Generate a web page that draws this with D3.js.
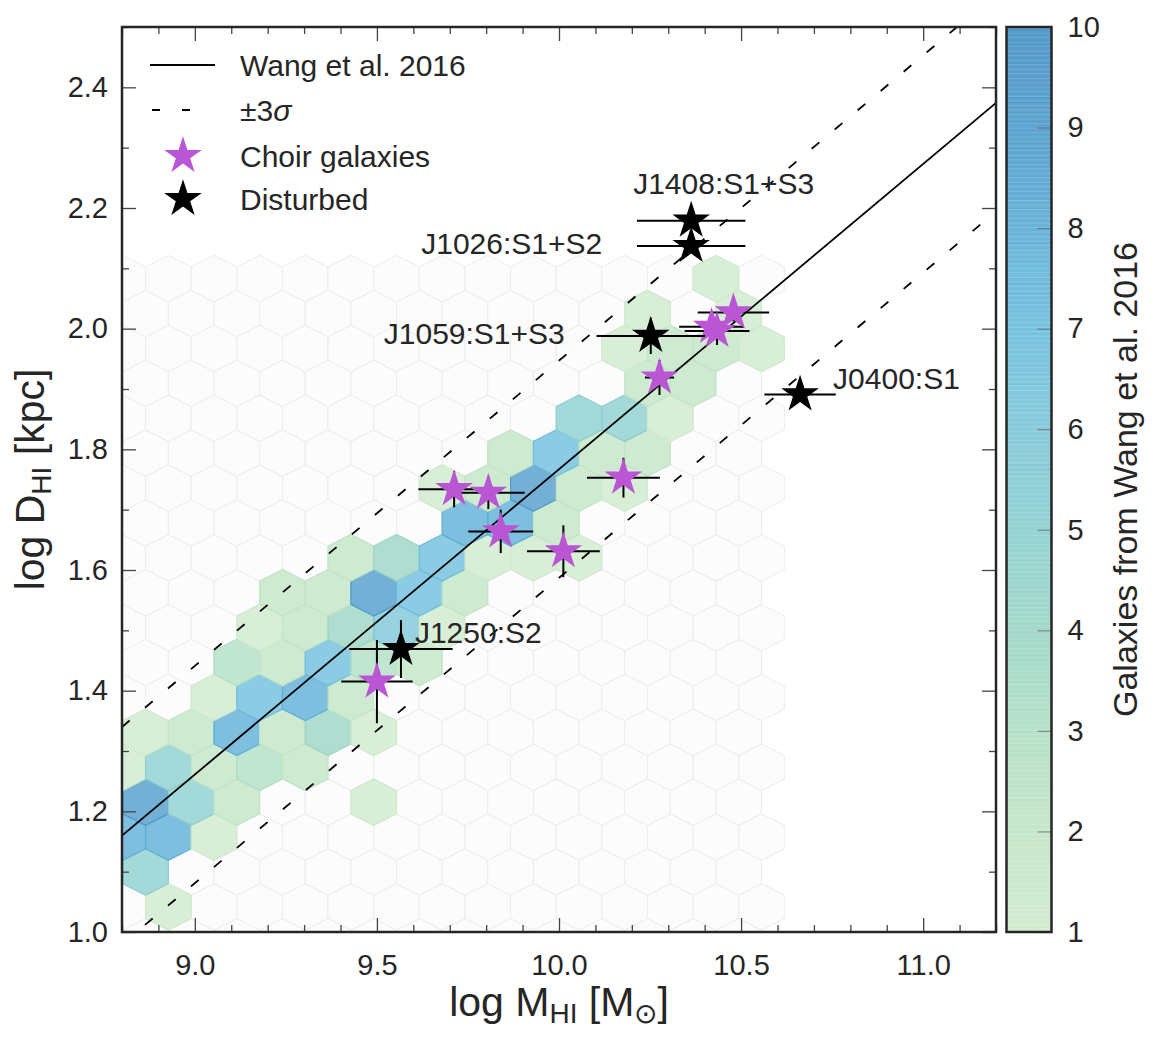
<!DOCTYPE html>
<html>
<head>
<meta charset="utf-8">
<script src="https://cdn.jsdelivr.net/npm/d3@7"></script>
<style>
  body { margin: 0; background: white; }
  text { font-family: "Liberation Sans", Arial, sans-serif; fill: #262626; }
</style>
</head>
<body>
<div id="chart"></div>
<script>
// axes
const xDomain = [8.8, 11.2];
const yDomain = [1.0, 2.5];
const xMajor = [9.0, 9.5, 10.0, 10.5, 11.0];
const yMajor = [1.0, 1.2, 1.4, 1.6, 1.8, 2.0, 2.2, 2.4];
const cbarTicks = [1, 2, 3, 4, 5, 6, 7, 8, 9, 10];
const cbarColors = ['#cfeacd', '#c2e5c6', '#b0dfc4', '#9bd6c6', '#8ccfcf',
                    '#7ec6d8', '#6ebedd', '#5eaed6', '#519ccc', '#4690c4'];

// hexbin lattice used for the Wang et al. 2016 sample
const hexGrid = { xmin: 8.802, xmax: 10.5562, nx: 14, ymin: 0.926, ymax: 2.083, ny: 10 };

// occupied hexagons: lattice column, lattice row, number of galaxies
const hexCol = [1, 0, 0, 1, 2, 0, 1, 2, 5, 0, 1, 2, 3, 4, 0, 1, 2, 3, 4, 5,
                2, 3, 4, 5, 2, 3, 4, 5, 6, 3, 4, 5, 6, 7, 3, 4, 5, 6, 7,
                5, 6, 7, 8, 9, 10, 7, 8, 9, 7, 8, 9, 10, 11, 8, 9, 10, 11,
                10, 11, 12, 11, 12, 11, 12, 13, 14, 11, 13, 13];
const hexRow = [2, 3, 4, 4, 4, 5, 5, 5, 5, 6, 6, 6, 6, 6, 7, 7, 7, 7, 7, 7,
                8, 8, 8, 8, 9, 9, 9, 9, 9, 10, 10, 10, 10, 10, 11, 11, 11, 11, 11,
                12, 12, 12, 12, 12, 12, 13, 13, 13, 14, 14, 14, 14, 14, 15, 15, 15, 15,
                16, 16, 16, 17, 17, 18, 18, 18, 18, 19, 19, 20];
const hexCount = [1, 5, 8, 8, 1, 9, 5, 2, 1, 1, 5, 2, 3, 2, 1, 2, 8, 2, 4, 1,
                  1, 7, 8, 2, 3, 2, 7, 3, 2, 1, 2, 4, 6, 1, 2, 2, 9, 7, 2,
                  2, 4, 7, 1, 1, 1, 8, 8, 2, 1, 2, 9, 2, 1, 2, 7, 2, 2,
                  5, 5, 1, 2, 2, 1, 2, 2, 1, 1, 1, 1];

// Wang et al. 2016 size-mass relation
const wangSlope = 0.506;
const wangIntercept = -3.293;
const wangSigma = 0.06;

// Choir galaxies
const choirX = [9.500, 9.712, 9.806, 9.840, 10.012, 10.177, 10.276, 10.419, 10.434, 10.479];
const choirY = [1.415, 1.734, 1.728, 1.664, 1.631, 1.753, 1.919, 2.003, 1.996, 2.027];
const choirXerr = [0.098, 0.098, 0.100, 0.089, 0.100, 0.100, 0.040, 0.089, 0.089, 0.098];
const choirYerr = [0.069, 0.030, 0.027, 0.036, 0.043, 0.033, 0.029, 0.015, 0.023, 0.015];

// disturbed galaxies
const distName = ['J1408:S1+S3', 'J1026:S1+S2', 'J1059:S1+S3', 'J0400:S1', 'J1250:S2'];
const distX = [10.363, 10.363, 10.252, 10.662, 9.566];
const distY = [2.179, 2.137, 1.988, 1.891, 1.469];
const distXerr = [0.149, 0.149, 0.149, 0.098, 0.142];
const distYerr = [0.010, 0.010, 0.030, 0.010, 0.048];

const hexShape = [[0.5, -1 / 6], [0.5, 1 / 6], [0, 1 / 3], [-0.5, 1 / 6], [-0.5, -1 / 6], [0, -1 / 3]];

function mkModel() {
  var model = {
    width: 1157,
    height: 1041,
    left: 122, right: 996, top: 27, bottom: 932,
    cbarLeft: 1006.5, cbarRight: 1051.5
  };
  model.x = d3.scaleLinear().domain(xDomain).range([model.left, model.right]);
  model.y = d3.scaleLinear().domain(yDomain).range([model.bottom, model.top]);
  model.yc = d3.scaleLinear().domain([1, 10]).range([model.bottom, model.top]);
  model.color = d3.scaleLinear().domain(cbarTicks).range(cbarColors);
  model.star = d3.symbol(d3.symbolStar, 440)();
  return model;
}

function hexPath(c, r, model) {
  var sx = (hexGrid.xmax - hexGrid.xmin) / hexGrid.nx;
  var sy = (hexGrid.ymax - hexGrid.ymin) / hexGrid.ny;
  var cx = hexGrid.xmin + (r % 2 === 0 ? c : c + 0.5) * sx;
  var cy = hexGrid.ymin + r * sy / 2;
  var pts = hexShape.map((p) => [model.x(cx + p[0] * sx), model.y(cy + p[1] * sy)]);
  return 'M' + pts.map((p) => p[0].toFixed(2) + ',' + p[1].toFixed(2)).join('L') + 'Z';
}

function hexbin(container, model) {
  // empty lattice cells
  var lattice = [];
  for (var r = 0; r <= 2 * hexGrid.ny; r++) {
    var n = r % 2 === 0 ? hexGrid.nx : hexGrid.nx - 1;
    for (var c = 0; c <= n; c++) lattice.push([c, r]);
  }
  container.selectAll('#emptyHex').data(lattice)
    .join('path')
    .attr('id', 'emptyHex')
    .attr('d', (d) => hexPath(d[0], d[1], model))
    .attr('fill', '#fcfcfc')
    .attr('stroke', '#ececec')
    .attr('stroke-width', 1);

  var cells = hexCount.map((n, i) => ({ c: hexCol[i], r: hexRow[i], n: n }));
  container.selectAll('#hex').data(cells)
    .join('path')
    .attr('id', 'hex')
    .attr('d', (d) => hexPath(d.c, d.r, model))
    .attr('fill', (d) => model.color(d.n))
    .attr('fill-opacity', 0.8)
    .attr('stroke', (d) => model.color(d.n))
    .attr('stroke-width', 1.2);
}

function relation(container, model) {
  var fits = [
    { off: 0, dash: null },
    { off: 3 * wangSigma, dash: '10,20' },
    { off: -3 * wangSigma, dash: '10,20' }
  ];
  container.selectAll('#fit').data(fits)
    .join('line')
    .attr('id', 'fit')
    .attr('x1', model.x(xDomain[0]))
    .attr('y1', (d) => model.y(wangSlope * xDomain[0] + wangIntercept + d.off))
    .attr('x2', model.x(xDomain[1]))
    .attr('y2', (d) => model.y(wangSlope * xDomain[1] + wangIntercept + d.off))
    .attr('stroke', 'black')
    .attr('stroke-width', 1.8)
    .attr('stroke-dasharray', (d) => d.dash);
}

function points(container, model, xs, ys, xe, ye, color, id) {
  var data = xs.map((v, i) => ({ x: v, y: ys[i], xe: xe[i], ye: ye[i] }));
  var x = model.x, y = model.y;
  container.selectAll('#' + id + 'Xerr').data(data)
    .join('line')
    .attr('id', id + 'Xerr')
    .attr('x1', (d) => x(d.x - d.xe)).attr('x2', (d) => x(d.x + d.xe))
    .attr('y1', (d) => y(d.y)).attr('y2', (d) => y(d.y))
    .attr('stroke', 'black').attr('stroke-width', 2);
  container.selectAll('#' + id + 'Yerr').data(data)
    .join('line')
    .attr('id', id + 'Yerr')
    .attr('x1', (d) => x(d.x)).attr('x2', (d) => x(d.x))
    .attr('y1', (d) => y(d.y - d.ye)).attr('y2', (d) => y(d.y + d.ye))
    .attr('stroke', 'black').attr('stroke-width', 2);
  container.selectAll('#' + id + 'Star').data(data)
    .join('path')
    .attr('id', id + 'Star')
    .attr('d', model.star)
    .attr('transform', (d) => 'translate(' + x(d.x) + ',' + y(d.y) + ')')
    .attr('fill', color);
}

function labels(container, model) {
  // offsets of each label from its star, in pixels
  var offsets = [[-58, -27, 'start'], [-89, 8, 'end'], [-86, 8, 'end'], [33, -5, 'start'], [14, -6, 'start']];
  container.selectAll('#distLabel').data(distName)
    .join('text')
    .attr('id', 'distLabel')
    .attr('x', (d, i) => model.x(distX[i]) + offsets[i][0])
    .attr('y', (d, i) => model.y(distY[i]) + offsets[i][1])
    .attr('text-anchor', (d, i) => offsets[i][2])
    .attr('font-size', 30)
    .text((d) => d);
}

function axes(svg, model) {
  var x = model.x, y = model.y;
  var xMinor = d3.range(8.8, 11.2001, 0.1).map((v) => +v.toFixed(1)).filter((v) => xMajor.indexOf(v) < 0);
  var yMinor = d3.range(1.0, 2.5001, 0.1).map((v) => +v.toFixed(1)).filter((v) => yMajor.indexOf(v) < 0);
  var sets = [
    { ax: d3.axisBottom(x), t: 'translate(0,' + model.bottom + ')', major: xMajor, minor: xMinor, label: true },
    { ax: d3.axisTop(x), t: 'translate(0,' + model.top + ')', major: xMajor, minor: xMinor, label: false },
    { ax: d3.axisLeft(y), t: 'translate(' + model.left + ',0)', major: yMajor, minor: yMinor, label: true },
    { ax: d3.axisRight(y), t: 'translate(' + model.right + ',0)', major: yMajor, minor: yMinor, label: false }
  ];
  var horiz = [true, true, false, false];
  sets.forEach((s, i) => {
    var g = svg.append('g').attr('transform', s.t);
    g.call(s.ax.tickValues(s.minor).tickSize(-7).tickFormat(''));
    var g2 = svg.append('g').attr('transform', s.t);
    g2.call(s.ax.tickValues(s.major).tickSize(-14)
      .tickPadding(horiz[i] ? 22 : 14)
      .tickFormat(s.label ? d3.format('.1f') : ''));
    [g, g2].forEach((gg) => {
      gg.select('.domain').remove();
      gg.selectAll('line').attr('stroke', '#444').attr('stroke-width', 1.3);
      gg.selectAll('text').attr('font-size', 29).attr('fill', '#262626')
        .attr('font-family', '"Liberation Sans", Arial, sans-serif');
    });
  });

  svg.append('rect')
    .attr('x', model.left).attr('y', model.top)
    .attr('width', model.right - model.left).attr('height', model.bottom - model.top)
    .attr('fill', 'none').attr('stroke', '#262626').attr('stroke-width', 2.5);

  var xl = svg.append('text')
    .attr('x', (model.left + model.right) / 2).attr('y', 1016)
    .attr('text-anchor', 'middle').attr('font-size', 41);
  xl.append('tspan').text('log M');
  xl.append('tspan').attr('font-size', 28).attr('dy', 7).text('HI');
  xl.append('tspan').attr('dy', -7).text(' [M');
  xl.append('tspan').attr('font-size', 28).attr('dy', 7).text('\u2299');
  xl.append('tspan').attr('dy', -7).text(']');

  var yl = svg.append('text')
    .attr('transform', 'translate(44,' + (model.top + model.bottom) / 2 + ') rotate(-90)')
    .attr('text-anchor', 'middle').attr('font-size', 41);
  yl.append('tspan').text('log D');
  yl.append('tspan').attr('font-size', 28).attr('dy', 7).text('HI');
  yl.append('tspan').attr('dy', -7).text(' [kpc]');
}

function colorbar(svg, model) {
  var yc = model.yc;
  var w = model.cbarRight - model.cbarLeft;
  var steps = d3.range(1, 10, 0.05);
  svg.selectAll('#cbarSlice').data(steps)
    .join('rect')
    .attr('id', 'cbarSlice')
    .attr('x', model.cbarLeft).attr('width', w)
    .attr('y', (d) => yc(d + 0.05)).attr('height', (d) => yc(d) - yc(d + 0.05) + 0.6)
    .attr('fill', (d) => model.color(d + 0.025))
    .attr('fill-opacity', 0.92);
  svg.selectAll('#cbarStripe').data(d3.range(1.03, 10, 0.045))
    .join('line')
    .attr('id', 'cbarStripe')
    .attr('x1', model.cbarLeft).attr('x2', model.cbarRight)
    .attr('y1', (d) => yc(d)).attr('y2', (d) => yc(d))
    .attr('stroke', 'white').attr('stroke-opacity', 0.22).attr('stroke-width', 0.8);

  var g = svg.append('g').attr('transform', 'translate(' + model.cbarRight + ',0)');
  g.call(d3.axisRight(yc).tickValues(cbarTicks).tickSize(-14).tickPadding(16).tickFormat(d3.format('d')));
  g.select('.domain').remove();
  g.selectAll('line').attr('stroke', '#555').attr('stroke-opacity', 0.6).attr('stroke-width', 1.2);
  g.selectAll('text').attr('font-size', 29).attr('fill', '#262626')
    .attr('font-family', '"Liberation Sans", Arial, sans-serif');

  svg.append('rect')
    .attr('x', model.cbarLeft).attr('y', model.top)
    .attr('width', w).attr('height', model.bottom - model.top)
    .attr('fill', 'none').attr('stroke', '#262626').attr('stroke-width', 2.5);

  svg.append('text')
    .attr('transform', 'translate(1137,' + (model.top + model.bottom) / 2 + ') rotate(-90)')
    .attr('text-anchor', 'middle').attr('font-size', 34)
    .text('Galaxies from Wang et al. 2016');
}

function legend(svg, model) {
  var rows = [
    { label: 'Wang et al. 2016', kind: 'line' },
    { label: '\u00b13', kind: 'dash' },
    { label: 'Choir galaxies', kind: 'star', color: '#ba55d3' },
    { label: 'Disturbed', kind: 'star', color: 'black' }
  ];
  var ys = [65, 110, 156, 199];
  var g = svg.append('g');
  rows.forEach((d, i) => {
    if (d.kind === 'star') {
      g.append('path').attr('d', model.star)
        .attr('transform', 'translate(183,' + ys[i] + ')').attr('fill', d.color);
    } else {
      g.append('line').attr('x1', d.kind === 'dash' ? 152 : 150).attr('x2', d.kind === 'dash' ? 192 : 215)
        .attr('y1', ys[i]).attr('y2', ys[i])
        .attr('stroke', 'black').attr('stroke-width', 1.8)
        .attr('stroke-dasharray', d.kind === 'dash' ? '8,22' : null);
    }
    var t = g.append('text').attr('x', 240).attr('y', ys[i] + 11).attr('font-size', 30).text(d.label);
    if (d.kind === 'dash') t.append('tspan').attr('font-style', 'italic').text('\u03c3');
  });
}

async function main() {
  var model = mkModel();
  var svg = d3.select('#chart').append('svg')
    .attr('width', model.width).attr('height', model.height);

  svg.append('defs').append('clipPath').attr('id', 'plotClip')
    .append('rect')
    .attr('x', model.left).attr('y', model.top)
    .attr('width', model.right - model.left).attr('height', model.bottom - model.top);

  var plot = svg.append('g').attr('clip-path', 'url(#plotClip)');
  hexbin(plot.append('g'), model);
  relation(plot.append('g'), model);
  points(plot.append('g'), model, choirX, choirY, choirXerr, choirYerr, '#ba55d3', 'choir');
  points(plot.append('g'), model, distX, distY, distXerr, distYerr, 'black', 'dist');
  labels(plot.append('g'), model);

  axes(svg, model);
  colorbar(svg, model);
  legend(svg, model);
}

main();
</script>
</body>
</html>
